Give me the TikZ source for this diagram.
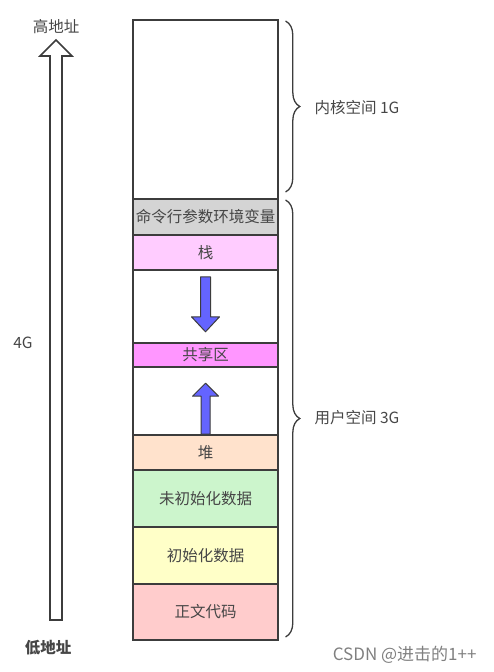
\documentclass[tikz,border=0pt]{standalone}
\usepackage{fontspec}
\newfontfamily\cjk{Noto Sans CJK SC}
\definecolor{mem_line}{RGB}{60, 60, 60}
\definecolor{mem_text}{RGB}{70, 70, 70}
\definecolor{mem_gray}{RGB}{212, 212, 212}
\definecolor{mem_stack}{RGB}{255, 204, 255}
\definecolor{mem_shared}{RGB}{255, 150, 255}
\definecolor{mem_heap}{RGB}{255, 226, 204}
\definecolor{mem_bss}{RGB}{204, 245, 204}
\definecolor{mem_data}{RGB}{255, 255, 200}
\definecolor{mem_code}{RGB}{255, 204, 204}
\definecolor{mem_blue}{RGB}{100, 100, 255}
\usepackage{tikz}
\usetikzlibrary{arrows.meta, positioning, decorations.pathreplacing, calc}

\begin{document}
\begin{tikzpicture}[
        x=1pt, y=-1pt,
        every node/.style={font=\cjk\fontsize{15.5}{18}\selectfont, text=mem_text},
        seg/.style={draw=mem_line, line width=1.6pt, minimum width=145pt, inner sep=0pt, fill=white},
        brc/.style={draw=mem_line, line width=1.3pt, line cap=round, decorate, decoration={brace, amplitude=14pt}},
        growarrow/.style={draw=mem_line, line width=1pt, fill=mem_blue, line join=round},
        hollow/.style={draw=mem_line, line width=1.6pt, fill=white, line join=miter},
      ]
        \useasboundingbox (0,0) rectangle (493,672);

        \node[seg, minimum height=179pt]                 (kernel)  at (205.5,109.5) {};
        \node[seg, minimum height=36pt, fill=mem_gray]   (cmdline) at (205.5,217)   {命令行参数环境变量};
        \node[seg, minimum height=35pt, fill=mem_stack]  (stack)   at (205.5,252.5) {栈};
        \node[seg, minimum height=73pt]                  (gapA)    at (205.5,306.5) {};
        \node[seg, minimum height=24pt, fill=mem_shared] (shared)  at (205.5,355)   {共享区};
        \node[seg, minimum height=68pt]                  (gapB)    at (205.5,401)   {};
        \node[seg, minimum height=35pt, fill=mem_heap]   (heap)    at (205.5,452.5) {堆};
        \node[seg, minimum height=57pt, fill=mem_bss]    (bss)     at (205.5,498.5) {未初始化数据};
        \node[seg, minimum height=57pt, fill=mem_data]   (data)    at (205.5,555.5) {初始化数据};
        \node[seg, minimum height=56pt, fill=mem_code]   (code)    at (205.5,612)   {正文代码};

        \draw[growarrow] (stack.south) ++(-5,6) -- ++(0,40) -- ++(-9,0) -- ++(14,15) -- ++(14,-15) -- ++(-9,0) -- ++(0,-40) -- cycle;
        \draw[growarrow] (heap.north) ++(-4.5,0) -- ++(0,-38) -- ++(-8.5,0) -- ++(13,-13) -- ++(13,13) -- ++(-8.5,0) -- ++(0,38) -- cycle;

        \draw[brc] ($(kernel.north east)+(7,2)$) -- ($(kernel.south east)+(7,-8)$);
        \draw[brc] ($(cmdline.north east)+(7,2)$) -- ($(code.south east)+(7,-4)$);
        \node[anchor=west] (kernelLbl) at (311,108) {内核空间 1G};
        \node[anchor=west] (userLbl)   at (311,418) {用户空间 3G};

        \node (high) at (56,27)  {高地址};
        \node (low)  at (48,648) {\bfseries 低地址};
        \node (size) at (23,343) {4G};
        \draw[hollow] (50,620) -- (50,56) -- (40,56) -- (56,40) -- (72,56) -- (62,56) -- (62,620) -- cycle;

        \node[text=gray, anchor=east, font=\cjk\fontsize{17}{20}\selectfont] (mark) at (480,655) {CSDN @进击的1++};
      \end{tikzpicture}
\end{document}
